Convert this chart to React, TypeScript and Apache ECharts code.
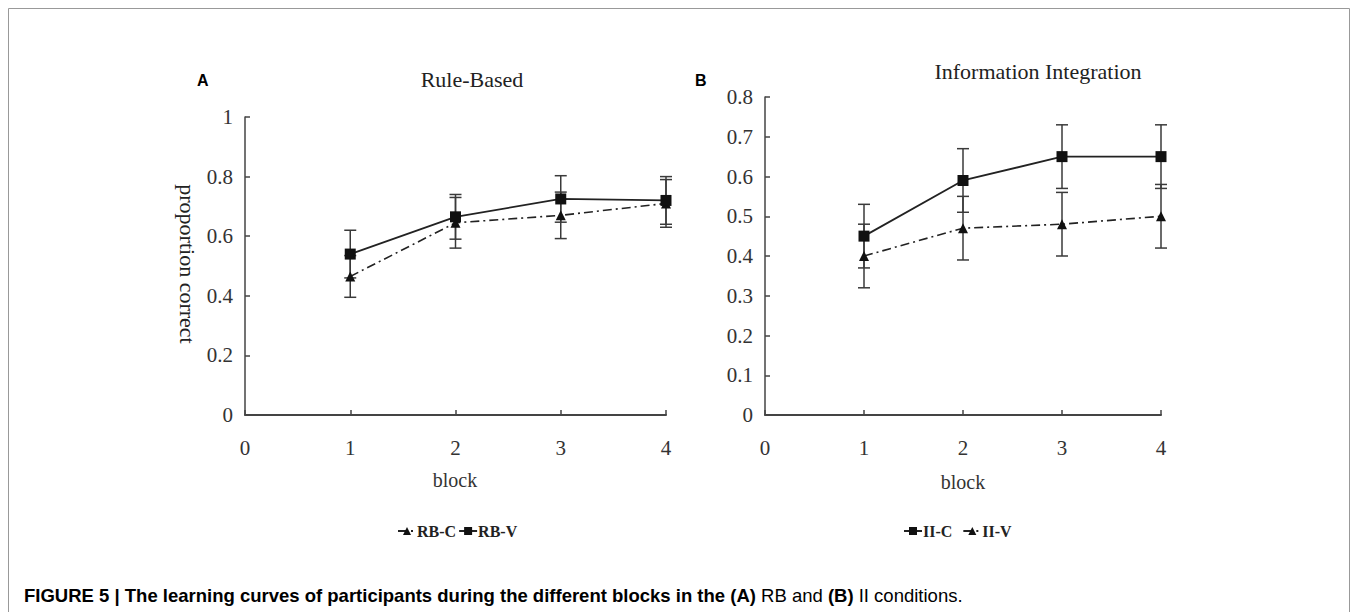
import React, { useEffect, useRef } from "react";
import * as echarts from "echarts";

const blocks = [1, 2, 3, 4];
const xTicks = [0, 1, 2, 3, 4];

// Panel A – Rule-Based
const rbC = [0.465, 0.645, 0.67, 0.71];
const rbCErr = [0.07, 0.085, 0.078, 0.08];
const rbV = [0.54, 0.665, 0.725, 0.72];
const rbVErr = [0.08, 0.075, 0.078, 0.08];

// Panel B – Information Integration
const iiC = [0.45, 0.59, 0.65, 0.65];
const iiCErr = [0.08, 0.08, 0.08, 0.08];
const iiV = [0.4, 0.47, 0.48, 0.5];
const iiVErr = [0.08, 0.08, 0.08, 0.08];

const AX = "#444";
const TXT = "#333";
const SERIF = "'Liberation Serif', 'DejaVu Serif', serif";
const SANS = "'Liberation Sans', Arial, sans-serif";

function pts(vals: number[]) {
  return blocks.map((b, i) => [b, vals[i]]);
}

function errSeries(vals: number[], errs: number[], idx: number) {
  return {
    type: "custom",
    xAxisIndex: idx,
    yAxisIndex: idx,
    silent: true,
    z: 1,
    data: blocks.map((b, i) => [b, vals[i] - errs[i], vals[i] + errs[i]]),
    renderItem: (params: any, api: any) => {
      const x = api.value(0);
      const lo = api.coord([x, api.value(1)]);
      const hi = api.coord([x, api.value(2)]);
      const w = 6;
      const style = { stroke: "#3a3a3a", lineWidth: 1.5 };
      return {
        type: "group",
        children: [
          { type: "line", shape: { x1: lo[0], y1: lo[1], x2: hi[0], y2: hi[1] }, style },
          { type: "line", shape: { x1: lo[0] - w, y1: lo[1], x2: lo[0] + w, y2: lo[1] }, style },
          { type: "line", shape: { x1: hi[0] - w, y1: hi[1], x2: hi[0] + w, y2: hi[1] }, style },
        ],
      };
    },
  };
}

function lineSeries(name: string, vals: number[], idx: number, symbol: string, dashed: boolean) {
  return {
    type: "line",
    name,
    xAxisIndex: idx,
    yAxisIndex: idx,
    data: pts(vals),
    symbol,
    symbolSize: symbol === "rect" ? 11 : 10,
    z: 3,
    itemStyle: { color: "#111" },
    lineStyle: {
      color: "#222",
      width: dashed ? 1.6 : 1.8,
      type: dashed ? [9, 4, 2, 4] : "solid",
    },
  };
}

function xAxis(idx: number) {
  return {
    type: "value",
    gridIndex: idx,
    min: 0,
    max: 4,
    interval: 1,
    axisLine: { lineStyle: { color: AX, width: 2 } },
    axisTick: { inside: true, length: 5, lineStyle: { color: AX, width: 1.5 } },
    axisLabel: {
      margin: 22,
      color: TXT,
      fontFamily: SERIF,
      fontSize: 21,
      customValues: xTicks,
    },
    splitLine: { show: false },
  };
}

function yAxis(idx: number, max: number, interval: number) {
  return {
    type: "value",
    gridIndex: idx,
    min: 0,
    max,
    interval,
    axisLine: { show: true, lineStyle: { color: AX, width: 1.5 } },
    axisTick: { show: true, inside: true, length: 5, lineStyle: { color: AX, width: 1.5 } },
    axisLabel: {
      margin: 12,
      color: TXT,
      fontFamily: SERIF,
      fontSize: 21,
      formatter: (v: number) => String(Math.round(v * 10) / 10),
    },
    splitLine: { show: false },
  };
}

const legendText = {
  fontFamily: SERIF,
  fontSize: 16,
  fontWeight: "bold",
  color: "#222",
  padding: [0, 0, 0, -4],
};

export default function App() {
  const ref = useRef<HTMLDivElement>(null);
  useEffect(() => {
    if (!ref.current) return;
    const chart = echarts.init(ref.current, undefined, { renderer: "svg" });
    chart.setOption({
      animation: false,
      backgroundColor: "#fff",
      grid: [
        { left: 245, right: 1357 - 666, top: 117, bottom: 612 - 415 },
        { left: 765, right: 1357 - 1161, top: 97, bottom: 612 - 415 },
      ],
      xAxis: [xAxis(0), xAxis(1)],
      yAxis: [yAxis(0, 1, 0.2), yAxis(1, 0.8, 0.1)],
      legend: [
        {
          data: ["RB-C", "RB-V"],
          left: 392,
          top: 518,
          itemWidth: 18,
          itemHeight: 10,
          itemGap: 2,
          textStyle: legendText,
        },
        {
          data: ["II-C", "II-V"],
          left: 898,
          top: 518,
          itemWidth: 18,
          itemHeight: 10,
          itemGap: 10,
          textStyle: legendText,
        },
      ],
      series: [
        errSeries(rbV, rbVErr, 0),
        errSeries(rbC, rbCErr, 0),
        lineSeries("RB-C", rbC, 0, "triangle", true),
        lineSeries("RB-V", rbV, 0, "rect", false),
        errSeries(iiC, iiCErr, 1),
        errSeries(iiV, iiVErr, 1),
        lineSeries("II-C", iiC, 1, "rect", false),
        lineSeries("II-V", iiV, 1, "triangle", true),
      ],
      graphic: [
        {
          type: "polyline",
          shape: { points: [[8.5, 612], [8.5, 8.5], [1349.5, 8.5], [1349.5, 612]] },
          style: { fill: "none", stroke: "#999", lineWidth: 1 },
          silent: true,
        },
        {
          type: "text",
          x: 197,
          y: 80,
          style: { text: "A", font: `bold 16px ${SANS}`, fill: "#000", textVerticalAlign: "middle" },
        },
        {
          type: "text",
          x: 695,
          y: 80,
          style: { text: "B", font: `bold 16px ${SANS}`, fill: "#000", textVerticalAlign: "middle" },
        },
        {
          type: "text",
          x: 472,
          y: 79,
          style: {
            text: "Rule-Based",
            font: `22px ${SERIF}`,
            fill: "#222",
            textAlign: "center",
            textVerticalAlign: "middle",
          },
        },
        {
          type: "text",
          x: 1038,
          y: 71,
          style: {
            text: "Information Integration",
            font: `22px ${SERIF}`,
            fill: "#222",
            textAlign: "center",
            textVerticalAlign: "middle",
          },
        },
        {
          type: "text",
          x: 187,
          y: 264,
          rotation: -Math.PI / 2,
          style: {
            text: "proportion correct",
            font: `22px ${SERIF}`,
            fill: "#222",
            textAlign: "center",
            textVerticalAlign: "middle",
          },
        },
        {
          type: "text",
          x: 455,
          y: 480,
          style: {
            text: "block",
            font: `20px ${SERIF}`,
            fill: "#333",
            textAlign: "center",
            textVerticalAlign: "middle",
          },
        },
        {
          type: "text",
          x: 963,
          y: 482,
          style: {
            text: "block",
            font: `20px ${SERIF}`,
            fill: "#333",
            textAlign: "center",
            textVerticalAlign: "middle",
          },
        },
        {
          type: "text",
          x: 24,
          y: 595,
          style: {
            text:
              "{b|FIGURE 5 | The learning curves of participants during the different blocks in the (A)}{n| RB and }{b|(B)}{n| II conditions.}",
            textVerticalAlign: "middle",
            rich: {
              b: { fontFamily: SANS, fontWeight: "bold", fontSize: 18.5, color: "#222" },
              n: { fontFamily: SANS, fontSize: 18.5, color: "#222" },
            },
          },
        },
      ],
    });
    return () => chart.dispose();
  }, []);
  return (
    <div
      ref={ref}
      style={{ position: "absolute", left: 0, top: 0, width: 1357, height: 612 }}
    />
  );
}
